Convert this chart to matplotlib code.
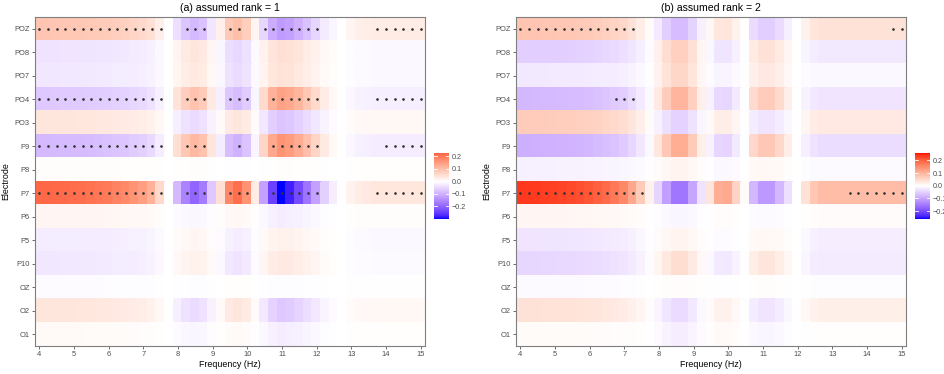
import numpy as np
import matplotlib
matplotlib.use("Agg")
import matplotlib.pyplot as plt
from matplotlib.colors import ListedColormap, Normalize

plt.rcParams["font.family"] = ["Liberation Sans", "DejaVu Sans"]

# ---- data -------------------------------------------------------------
electrodes = ["POZ", "PO8", "PO7", "PO4", "PO3", "P9", "P8",
              "P7", "P6", "P5", "P10", "OZ", "O2", "O1"]
freqs = [4.0, 4.25, 4.5, 4.75, 5.0, 5.25, 5.5, 5.75, 6.0, 6.25, 6.5, 6.75,
         7.0, 7.25, 7.5, 7.75, 8.0, 8.25, 8.5, 8.75, 9.0, 9.25, 9.5, 9.75,
         10.0, 10.25, 10.5, 10.75, 11.0, 11.25, 11.5, 11.75, 12.0, 12.25,
         12.5, 12.75, 13.0, 13.25, 13.5, 13.75, 14.0, 14.25, 14.5, 14.75, 15.0]
x_ticks = [4, 5, 6, 7, 8, 9, 10, 11, 12, 13, 14, 15]
cbar_ticks = [0.2, 0.1, 0.0, -0.1, -0.2]
cbar_labels = ["0.2", "0.1", "0.0", "\u22120.1", "\u22120.2"]

# coefficients, in units of 0.001
rank1_vals = [
    [90, 90, 89, 88, 87, 86, 84, 82, 80, 76, 72, 66, 60, 48, 24, 0, -41, -72, -90, -77, -32, 23, 84, 100, 77, 14, -52, -107, -130, -121, -101, -78, -52, -26, -12, 0, 15, 24, 27, 30, 30, 30, 30, 30, 30],
    [-35, -35, -35, -34, -34, -33, -33, -32, -31, -30, -28, -26, -23, -19, -9, 0, 18, 32, 40, 34, 14, -12, -42, -50, -39, -7, 20, 41, 50, 47, 39, 30, 20, 10, 4, 0, -4, -6, -7, -8, -8, -8, -8, -8, -8],
    [-30, -30, -30, -29, -29, -29, -28, -27, -27, -25, -24, -22, -20, -16, -8, 0, 16, 28, 35, 30, 12, -10, -38, -45, -35, -6, 18, 37, 45, 42, 35, 27, 18, 9, 3, 0, -4, -6, -7, -8, -8, -8, -8, -8, -8],
    [-70, -70, -69, -68, -68, -67, -65, -64, -62, -59, -56, -51, -47, -37, -19, 0, 43, 76, 95, 81, 33, -20, -71, -85, -65, -12, 58, 119, 145, 135, 113, 87, 58, 29, 10, 0, -10, -16, -18, -20, -20, -20, -20, -20, -20],
    [40, 40, 39, 39, 39, 38, 37, 36, 36, 34, 32, 29, 27, 21, 11, 0, -20, -36, -45, -38, -16, 9, 34, 40, 31, 6, -30, -62, -75, -70, -59, -45, -30, -15, -5, 0, 6, 10, 11, 12, 12, 12, 12, 12, 12],
    [-90, -90, -89, -88, -87, -86, -84, -82, -80, -76, -72, -66, -60, -48, -24, 0, 50, 88, 110, 94, 39, -23, -84, -100, -77, -14, 66, 135, 165, 153, 129, 99, 66, 33, 12, 0, -11, -18, -20, -22, -22, -22, -22, -22, -22],
    [3, 3, 3, 3, 3, 3, 3, 3, 3, 3, 2, 2, 2, 2, 1, 0, 1, 2, 3, 3, 1, 0, -2, -2, -2, 0, 1, 2, 3, 3, 2, 2, 1, 1, 0, 0, 1, 2, 2, 2, 2, 2, 2, 2, 2],
    [225, 224, 222, 220, 218, 215, 210, 205, 200, 190, 180, 165, 150, 120, 60, 0, -90, -160, -200, -170, -70, 49, 181, 215, 166, 30, -120, -246, -300, -279, -234, -180, -120, -60, -21, 0, 19, 30, 34, 38, 38, 38, 38, 38, 38],
    [15, 15, 15, 15, 15, 14, 14, 14, 13, 13, 12, 11, 10, 8, 4, 0, -5, -8, -10, -9, -4, 3, 10, 12, 9, 2, -9, -18, -22, -20, -17, -13, -9, -4, -2, 0, 2, 3, 4, 4, 4, 4, 4, 4, 4],
    [-25, -25, -25, -24, -24, -24, -23, -23, -22, -21, -20, -18, -17, -13, -7, 0, 6, 11, 14, 12, 5, -5, -18, -22, -17, -3, 9, 18, 22, 20, 17, 13, 9, 4, 2, 0, -4, -6, -7, -8, -8, -8, -8, -8, -8],
    [-30, -30, -30, -29, -29, -29, -28, -27, -27, -25, -24, -22, -20, -16, -8, 0, 10, 18, 22, 19, 8, -8, -29, -35, -27, -5, 14, 29, 35, 33, 27, 21, 14, 7, 2, 0, -3, -5, -5, -6, -6, -6, -6, -6, -6],
    [-5, -5, -5, -5, -5, -5, -5, -5, -4, -4, -4, -4, -3, -3, -1, 0, -1, -2, -3, -3, -1, 0, 2, 2, 2, 0, -2, -3, -4, -4, -3, -2, -2, -1, 0, 0, 1, 1, 1, 1, 1, 1, 1, 1, 1],
    [40, 40, 39, 39, 39, 38, 37, 36, 36, 34, 32, 29, 27, 21, 11, 0, -20, -36, -45, -38, -16, 9, 34, 40, 31, 6, -28, -57, -70, -65, -55, -42, -28, -14, -5, 0, 6, 10, 11, 12, 12, 12, 12, 12, 12],
    [8, 8, 8, 8, 8, 8, 7, 7, 7, 7, 6, 6, 5, 4, 2, 0, -5, -10, -12, -10, -4, 2, 7, 8, 6, 1, -9, -18, -22, -20, -17, -13, -9, -4, -2, 0, 1, 2, 2, 2, 2, 2, 2, 2, 2],
]
rank2_vals = [
    [80, 80, 79, 78, 78, 77, 75, 74, 71, 68, 64, 59, 53, 40, 24, 6, -23, -53, -75, -75, -49, -15, 11, 33, 35, 18, 2, -39, -55, -55, -39, -17, 0, 18, 34, 40, 40, 40, 40, 40, 40, 40, 40, 40, 40],
    [-55, -55, -54, -54, -53, -53, -52, -51, -49, -47, -44, -41, -36, -28, -17, -4, 20, 46, 65, 65, 42, 13, -9, -29, -30, -15, -2, 28, 40, 40, 28, 12, 0, -11, -21, -25, -25, -25, -25, -25, -25, -25, -25, -25, -25],
    [-25, -25, -25, -25, -24, -24, -24, -23, -22, -21, -20, -19, -17, -13, -8, -2, 17, 39, 55, 55, 36, 11, -4, -11, -12, -6, -1, 21, 30, 30, 21, 9, 0, -4, -7, -8, -8, -8, -8, -8, -8, -8, -8, -8, -8],
    [-80, -80, -79, -78, -78, -77, -75, -74, -71, -68, -64, -59, -53, -40, -24, -6, 30, 70, 100, 100, 65, 20, -14, -43, -45, -23, -2, 49, 70, 70, 49, 21, 0, -14, -26, -30, -30, -30, -30, -30, -30, -30, -30, -30, -30],
    [70, 70, 69, 69, 68, 67, 66, 64, 62, 60, 56, 52, 46, 35, 21, 6, -15, -35, -50, -50, -33, -10, 8, 24, 25, 13, 1, -21, -30, -30, -21, -9, 0, 14, 26, 30, 30, 30, 30, 30, 30, 30, 30, 30, 30],
    [-90, -90, -89, -88, -87, -86, -85, -83, -80, -77, -72, -67, -59, -45, -27, -7, 33, 77, 110, 110, 72, 22, -14, -46, -48, -24, -2, 53, 75, 75, 53, 23, 0, -17, -32, -38, -38, -38, -38, -38, -38, -38, -38, -38, -38],
    [-15, -15, -15, -15, -15, -14, -14, -14, -13, -13, -12, -11, -10, -8, -5, -1, 5, 11, 15, 15, 10, 3, -2, -8, -8, -4, 0, 7, 10, 10, 7, 3, 0, -3, -5, -6, -6, -6, -6, -6, -6, -6, -6, -6, -6],
    [240, 239, 238, 235, 233, 230, 226, 221, 214, 204, 192, 178, 158, 120, 72, 19, -47, -109, -155, -155, -101, -31, 35, 109, 115, 58, 6, -81, -115, -115, -81, -35, 0, 41, 77, 90, 90, 90, 90, 90, 90, 90, 90, 90, 90],
    [12, 12, 12, 12, 12, 12, 11, 11, 11, 10, 10, 9, 8, 6, 4, 1, -3, -7, -10, -10, -7, -2, 1, 4, 4, 2, 0, -4, -6, -6, -4, -2, 0, 2, 4, 5, 5, 5, 5, 5, 5, 5, 5, 5, 5],
    [-30, -30, -30, -29, -29, -29, -28, -28, -27, -26, -24, -22, -20, -15, -9, -2, 5, 11, 15, 15, 10, 3, -1, -4, -4, -2, 0, 7, 10, 10, 7, 3, 0, -8, -15, -18, -18, -18, -18, -18, -18, -18, -18, -18, -18],
    [-45, -45, -45, -44, -44, -43, -42, -41, -40, -38, -36, -33, -30, -23, -14, -4, 14, 32, 45, 45, 29, 9, -8, -24, -25, -13, -1, 25, 35, 35, 25, 11, 0, -10, -19, -22, -22, -22, -22, -22, -22, -22, -22, -22, -22],
    [-5, -5, -5, -5, -5, -5, -5, -5, -4, -4, -4, -4, -3, -3, -2, 0, 1, 3, 4, 4, 3, 1, -1, -2, -2, -1, 0, 2, 3, 3, 2, 1, 0, -1, -3, -3, -3, -3, -3, -3, -3, -3, -3, -3, -3],
    [40, 40, 40, 39, 39, 38, 38, 37, 36, 34, 32, 30, 26, 20, 12, 3, -12, -28, -40, -40, -26, -8, 5, 17, 18, 9, 1, -21, -30, -30, -21, -9, 0, 10, 19, 22, 22, 22, 22, 22, 22, 22, 22, 22, 22],
    [6, 6, 6, 6, 6, 6, 6, 6, 5, 5, 5, 4, 4, 3, 2, 0, -5, -13, -18, -18, -12, -4, 2, 8, 8, 4, 0, -7, -10, -10, -7, -3, 0, 1, 2, 2, 2, 2, 2, 2, 2, 2, 2, 2, 2],
]

# significance marks ('*' = significant)
rank1_stars = [
    "***************..***..**..*******......******",
    "." * 45,
    "." * 45,
    "***************..***..***..******......******",
    "." * 45,
    "***************..***...*...******.......*****",
    "." * 45,
    "***************..***..***..******......******",
    "." * 45, "." * 45, "." * 45, "." * 45, "." * 45, "." * 45,
]
rank2_stars = [
    "**************" + "." * 29 + "**",
    "." * 45,
    "." * 45,
    "." * 11 + "***" + "." * 31,
    "." * 45, "." * 45, "." * 45,
    "***************" + "." * 23 + "*******",
    "." * 45, "." * 45, "." * 45, "." * 45, "." * 45, "." * 45,
]
rank1_limits = [-0.300, 0.227]
rank2_limits = [-0.262, 0.259]


# ---- blue-white-red scale interpolated in Lab, like scale_fill_gradient2
M = np.array([[0.4124564, 0.3575761, 0.1804375],
              [0.2126729, 0.7151522, 0.0721750],
              [0.0193339, 0.1191920, 0.9503041]])
WHITE = np.array([0.95047, 1.0, 1.08883])


def to_lab(c):
    c = np.asarray(c, float)
    lin = np.where(c <= 0.04045, c / 12.92, ((c + 0.055) / 1.055) ** 2.4)
    r = (M @ lin) / WHITE
    d = 6 / 29
    f = np.where(r > d ** 3, np.cbrt(r), r / (3 * d * d) + 4 / 29)
    return np.array([116 * f[1] - 16, 500 * (f[0] - f[1]), 200 * (f[1] - f[2])])


def from_lab(lab):
    fy = (lab[0] + 16) / 116
    f = np.array([fy + lab[1] / 500, fy, fy - lab[2] / 200])
    d = 6 / 29
    r = np.where(f > d, f ** 3, 3 * d * d * (f - 4 / 29))
    lin = np.clip(np.linalg.solve(M, r * WHITE), 0, 1)
    c = np.where(lin <= 0.0031308, 12.92 * lin, 1.055 * lin ** (1 / 2.4) - 0.055)
    return np.clip(c, 0, 1)


lab_w, lab_b, lab_r = to_lab([1, 1, 1]), to_lab([0, 0, 1]), to_lab([1, 0, 0])
colors = []
for t in np.linspace(-1, 1, 513):
    end = lab_b if t < 0 else lab_r
    colors.append(from_lab(lab_w + abs(t) * (end - lab_w)))
cmap = ListedColormap(colors)

W, H = 945, 374
fig = plt.figure(figsize=(W / 100, H / 100), dpi=100)


def draw_panel(left, vals, stars, limits, title, cb_left):
    ax = fig.add_axes([left / W, 1 - 346 / H, 390 / W, 329 / H])
    z = np.array(vals) / 1000.0
    m = max(abs(limits[0]), abs(limits[1]))
    norm = Normalize(-m, m)
    f = np.array(freqs)
    x_edges = np.append(f - 0.125, f[-1] + 0.125)
    y_edges = np.arange(len(electrodes) + 1) - 0.5
    ax.pcolormesh(x_edges, y_edges, z, cmap=cmap, norm=norm,
                  edgecolors="face", linewidth=0.2)
    sx, sy = [], []
    for i, row in enumerate(stars):
        for j, ch in enumerate(row):
            if ch == "*":
                sx.append(freqs[j])
                sy.append(i)
    ax.scatter(sx, sy, marker=(6, 2, 0), s=3, c="#333333", linewidths=0.35)
    ax.set_xlim(x_edges[0], x_edges[-1])
    ax.set_ylim(len(electrodes) - 0.5, -0.5)
    ax.set_yticks(range(len(electrodes)))
    ax.set_yticklabels(electrodes)
    ax.set_xticks(x_ticks)
    ax.tick_params(labelsize=5.4, labelcolor="#4d4d4d", length=2.2,
                   width=0.5, color="#333333", pad=1.5)
    for s in ax.spines.values():
        s.set_color("#7f7f7f")
        s.set_linewidth(0.8)
    ax.set_xlabel("Frequency (Hz)", fontsize=6.4, labelpad=1.5)
    ax.set_ylabel("Electrode", fontsize=6.4, labelpad=3)
    ax.set_title(title, fontsize=7.6, pad=4)

    # colour bar covering the range of the values
    cb = fig.add_axes([cb_left / W, 1 - 219 / H, 15 / W, 66 / H])
    g = np.linspace(limits[0], limits[1], 200)
    cb.imshow(g[:, None], cmap=cmap, norm=norm, aspect="auto", origin="lower",
              extent=[0, 1, limits[0], limits[1]])
    for v in cbar_ticks:
        cb.plot([0, 0.2], [v, v], color="white", lw=0.6)
        cb.plot([0.8, 1], [v, v], color="white", lw=0.6)
    cb.set_xlim(0, 1)
    cb.set_ylim(limits[0], limits[1])
    cb.set_xticks([])
    cb.yaxis.tick_right()
    cb.set_yticks(cbar_ticks)
    cb.set_yticklabels(cbar_labels)
    cb.tick_params(length=0, labelsize=5.2, labelcolor="#4d4d4d", pad=2)
    for s in cb.spines.values():
        s.set_visible(False)


draw_panel(35, rank1_vals, rank1_stars, rank1_limits, "(a) assumed rank = 1", 434)
draw_panel(516, rank2_vals, rank2_stars, rank2_limits, "(b) assumed rank = 2", 915)

fig.savefig("out.png", dpi=100)
